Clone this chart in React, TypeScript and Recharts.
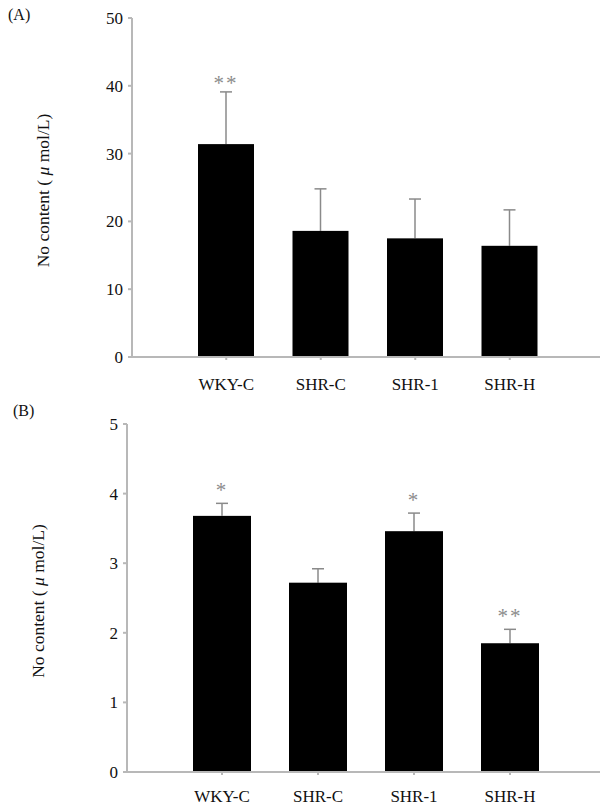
import { Bar, BarChart, LabelList, XAxis, YAxis } from "recharts";

const groups = ["WKY-C", "SHR-C", "SHR-1", "SHR-H"];

// panel A
const meanA = [31.4, 18.6, 17.5, 16.4];
const sdA = [7.7, 6.2, 5.8, 5.3];
const markA = ["**", "", "", ""];
const ticksA = [0, 10, 20, 30, 40, 50];

// panel B
const meanB = [3.68, 2.72, 3.46, 1.85];
const sdB = [0.18, 0.2, 0.26, 0.2];
const markB = ["*", "", "*", "**"];
const ticksB = [0, 1, 2, 3, 4, 5];

const font = "'Liberation Serif', 'Times New Roman', serif";
const axisGrey = "#b8b8b8";
const errGrey = "#8a8a8a";

function rows(mean: number[], sd: number[], mark: string[]) {
  return groups.map((g, i) => ({
    name: g,
    value: mean[i],
    sd: sd[i],
    mark: mark[i],
  }));
}

function YLabel(props: any) {
  const vb = props.viewBox;
  const cx = vb.x + 11;
  const cy = vb.y + vb.height / 2 + 3;
  return (
    <text
      x={cx}
      y={cy}
      transform={`rotate(-90 ${cx} ${cy})`}
      textAnchor="middle"
      dominantBaseline="central"
      fontFamily={font}
      fontSize={17.5}
      fill="#111"
    >
      No content ( <tspan fontStyle="italic">μ</tspan> mol/L)
    </text>
  );
}

// bar with upper-only error bar, sd converted to pixels from the bar's own scale
function BarWithErr(props: any) {
  const { x, y, width, height, payload } = props;
  const perUnit = height / payload.value;
  const top = y - payload.sd * perUnit;
  const cx = x + width / 2;
  return (
    <g>
      <line x1={cx} y1={y} x2={cx} y2={top} stroke={errGrey} strokeWidth={1.5} />
      <line x1={cx - 6} y1={top} x2={cx + 6} y2={top} stroke={errGrey} strokeWidth={1.5} />
      <rect x={x} y={y} width={width} height={height} fill="#000" />
    </g>
  );
}

function starLabel(data: any[], gap: number) {
  return (props: any) => {
    const { x, y, width, height, index } = props;
    const d = data[index];
    if (!d || !d.mark) return null;
    const perUnit = height / d.value;
    const top = y - d.sd * perUnit;
    return (
      <text
        x={x + width / 2}
        y={top - gap + 9}
        textAnchor="middle"
        fontFamily={font}
        fontSize={21}
        letterSpacing={2}
        fill="#8c8c8c"
      >
        {d.mark}
      </text>
    );
  };
}

function Panel({
  data,
  ticks,
  max,
  height,
  margin,
  padding,
  barSize,
  gap,
  tickMargin,
}: {
  data: any[];
  ticks: number[];
  max: number;
  height: number;
  margin: any;
  padding: any;
  barSize: number;
  gap: number;
  tickMargin: number;
}) {
  return (
    <BarChart width={606} height={height} data={data} margin={margin}>
      <XAxis
        dataKey="name"
        padding={padding}
        height={30}
        stroke={axisGrey}
        strokeWidth={2}
        tickSize={3}
        tickMargin={tickMargin}
        tick={{ fontSize: 17, fontFamily: font, fill: "#111" }}
      />
      <YAxis
        domain={[0, max]}
        ticks={ticks}
        interval={0}
        width={100}
        stroke={axisGrey}
        strokeWidth={2}
        tickSize={4}
        tickMargin={5}
        tick={{ fontSize: 17, fontFamily: font, fill: "#111" }}
        label={<YLabel />}
      />
      <Bar
        dataKey="value"
        fill="#000"
        barSize={barSize}
        shape={<BarWithErr />}
        isAnimationActive={false}
      >
        <LabelList dataKey="mark" content={starLabel(data, gap)} />
      </Bar>
    </BarChart>
  );
}

export default function App() {
  const dataA = rows(meanA, sdA, markA);
  const dataB = rows(meanB, sdB, markB);
  return (
    <div style={{ position: "absolute", left: 0, top: 0, width: 606, height: 808, background: "#fff" }}>
      <div style={{ position: "absolute", left: 0, top: 0 }}>
        <Panel
          data={dataA}
          ticks={ticksA}
          max={50}
          height={400}
          margin={{ top: 18, right: 6, left: 32, bottom: 13 }}
          padding={{ left: 47, right: 43 }}
          barSize={56}
          gap={11}
          tickMargin={18}
        />
      </div>
      <div style={{ position: "absolute", left: 0, top: 400 }}>
        <Panel
          data={dataB}
          ticks={ticksB}
          max={5}
          height={408}
          margin={{ top: 24, right: 6, left: 27, bottom: 6 }}
          padding={{ left: 47, right: 42 }}
          barSize={58}
          gap={15}
          tickMargin={15}
        />
      </div>
      <div style={{ position: "absolute", left: 8, top: 6, fontFamily: font, fontSize: 16, color: "#111" }}>(A)</div>
      <div style={{ position: "absolute", left: 13, top: 402, fontFamily: font, fontSize: 16, color: "#111" }}>(B)</div>
    </div>
  );
}
